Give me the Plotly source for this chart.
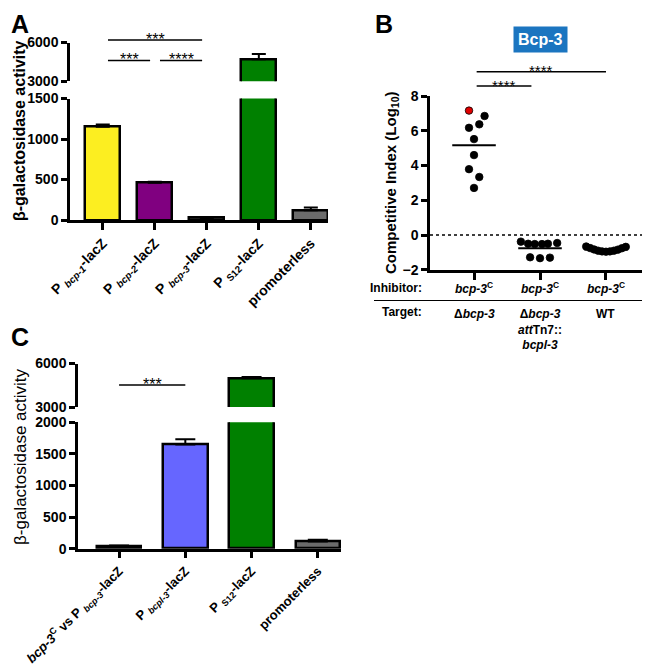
import plotly.graph_objects as go
import numpy as np

# the page body has an 8px margin, so the figure is drawn 8px smaller and shifted
OFF = 8
W, H = 650 - OFF, 668 - OFF
FONT = "Liberation Sans, Arial, sans-serif"

# ---------------- DATA ----------------
# Panel A
a_labels = ["P <sub><i>bcp-1</i></sub>-lacZ", "P <sub><i>bcp-2</i></sub>-lacZ",
            "P <sub><i>bcp-3</i></sub>-lacZ", "P <sub>S12</sub>-lacZ", "promoterless"]
a_values = [1150, 460, 25, 4700, 120]
a_errors = [30, 12, 12, 420, 35]
a_colors = ["#FCEE21", "#800080", "#333333", "#008000", "#6b6b6b"]
a_lower_ticks = [0, 500, 1000, 1500]
a_upper_ticks = [3000, 6000]

# Panel B
b_g1 = [7.16, 6.85, 6.37, 6.17, 5.52, 4.60, 3.79, 3.34, 2.71]
b_g2 = [-0.38, -0.50, -0.52, -0.52, -0.50, -0.46, -1.28, -1.33, -1.30]
b_g3 = [-0.66, -0.75, -0.83, -0.90, -0.94, -0.96, -0.94, -0.90, -0.84, -0.76, -0.68]
b_inhibitor = ["<i>bcp-3</i><sup>C</sup>", "<i>bcp-3</i><sup>C</sup>", "<i>bcp-3</i><sup>C</sup>"]
b_target = ["Δ<i>bcp-3</i>", "Δ<i>bcp-3</i><br><i>att</i>Tn7::<br><i>bcpl-3</i>", "WT"]
b_ticks = [-2, 0, 2, 4, 6, 8]

# Panel C
c_labels = ["<i>bcp-3</i><sup>C</sup> vs P <sub><i>bcp-3</i></sub>-lacZ", "P <sub><i>bcpl-3</i></sub>-lacZ",
            "P <sub>S12</sub>-lacZ", "promoterless"]
c_values = [32, 1650, 4980, 115]
c_errors = [18, 80, 90, 25]
c_colors = ["#222222", "#6666FF", "#008000", "#6b6b6b"]
c_lower_ticks = [0, 500, 1000, 1500, 2000]
c_upper_ticks = [3000, 6000]

# ---------------- LAYOUT CONSTANTS ----------------
def px(x):
    return min(1.0, max(0.0, (x - OFF) / W))

def py(y):
    return 1 - (y - OFF) / H

# jitter offsets (category units) for the scatter in panel B
b_jitter = [
    [-0.076, 0.16, 0.08, -0.076, 0.0, 0.0, -0.076, 0.08, 0.0],
    [-0.29, -0.18, -0.08, 0.03, 0.12, 0.26, -0.15, 0.0, 0.15],
    [-0.30, -0.24, -0.18, -0.12, -0.06, 0.0, 0.06, 0.12, 0.18, 0.24, 0.30],
]

A_XDOM = [px(70), px(328)]
A_XRNG = [-0.63, 4.33]
A_YDOM_LO = [py(220), py(98.5)]
A_YDOM_HI = [py(81.3), py(42.5)]
B_XDOM = [px(430), 1.0]
B_XRNG = [-0.667, 2.667]
B_YDOM = [py(269.8), py(96)]
B_YRNG = [-2, 8]
C_XDOM = [px(78), px(341)]
C_XRNG = [-0.62, 3.35]
C_YDOM_LO = [py(548.7), py(422.3)]
C_YDOM_HI = [py(407), py(363.5)]

def to_paper(dom, rng, v):
    return dom[0] + (v - rng[0]) / (rng[1] - rng[0]) * (dom[1] - dom[0])

fig = go.Figure()

def add_bars(xs, vals, errs, colors, xa, ya, width, capw):
    fig.add_trace(go.Bar(
        x=xs, y=vals, width=width, xaxis=xa, yaxis=ya,
        marker=dict(color=colors, line=dict(color="black", width=2.5)),
        error_y=dict(type="data", array=errs, arrayminus=[0] * len(errs), symmetric=False,
                     color="black", thickness=2, width=capw),
        showlegend=False, hoverinfo="skip"))

a_x = list(range(len(a_values)))
add_bars(a_x, a_values, a_errors, a_colors, "x", "y", 0.67, 7)
add_bars(a_x, a_values, a_errors, a_colors, "x2", "y2", 0.67, 7)

c_x = list(range(len(c_values)))
add_bars(c_x, c_values, c_errors, c_colors, "x4", "y4", 0.67, 10)
add_bars(c_x, c_values, c_errors, c_colors, "x5", "y5", 0.67, 10)

# Panel B scatter
b_groups = [b_g1, b_g2, b_g3]
for gi, (vals, jit) in enumerate(zip(b_groups, b_jitter)):
    xs = [gi + j for j in jit]
    colors = ["#E00000" if (gi == 0 and k == 0) else "black" for k in range(len(vals))]
    fig.add_trace(go.Scatter(
        x=xs, y=vals, mode="markers", xaxis="x3", yaxis="y3",
        marker=dict(size=7.5, color=colors, line=dict(color="black", width=0.8)),
        showlegend=False, hoverinfo="skip"))
    m = float(np.mean(vals))
    fig.add_trace(go.Scatter(
        x=[gi - 0.33, gi + 0.33], y=[m, m], mode="lines", xaxis="x3", yaxis="y3",
        line=dict(color="black", width=2), showlegend=False, hoverinfo="skip"))

def axis_common(size=14):
    return dict(showline=True, linewidth=2.5, linecolor="black", ticks="outside",
                tickwidth=2.5, tickcolor="black", showgrid=False, zeroline=False,
                automargin=False,
                tickfont=dict(family=FONT, size=size, color="black", weight="bold"))

fig.update_layout(
    width=W, height=H, margin=dict(l=0, r=0, t=0, b=0, autoexpand=False),
    paper_bgcolor="white", plot_bgcolor="white", bargap=0,
    font=dict(family=FONT, color="black"),
    xaxis=dict(domain=A_XDOM, range=A_XRNG, anchor="y", tickvals=a_x, ticktext=a_labels,
               tickangle=-45, ticklen=7, **axis_common()),
    yaxis=dict(domain=A_YDOM_LO, range=[0, 1500], anchor="x", tickvals=a_lower_ticks,
               ticklen=6, **axis_common()),
    xaxis2=dict(domain=A_XDOM, range=A_XRNG, anchor="y2", visible=False, automargin=False),
    yaxis2=dict(domain=A_YDOM_HI, range=[3000, 6000], anchor="x2", tickvals=a_upper_ticks,
                ticklen=6, **axis_common()),
    xaxis3=dict(domain=B_XDOM, range=B_XRNG, anchor="y3", tickvals=[0, 1, 2],
                ticktext=["", "", ""], ticklen=7, **axis_common()),
    yaxis3=dict(domain=B_YDOM, range=B_YRNG, anchor="x3", tickvals=b_ticks,
                ticklen=6, **axis_common()),
    xaxis4=dict(domain=C_XDOM, range=C_XRNG, anchor="y4", tickvals=c_x, ticktext=c_labels,
                tickangle=-45, ticklen=7, **axis_common(13)),
    yaxis4=dict(domain=C_YDOM_LO, range=[0, 2000], anchor="x4", tickvals=c_lower_ticks,
                ticklen=6, **axis_common()),
    xaxis5=dict(domain=C_XDOM, range=C_XRNG, anchor="y5", visible=False, automargin=False),
    yaxis5=dict(domain=C_YDOM_HI, range=[3000, 6000], anchor="x5", tickvals=c_upper_ticks,
                ticklen=6, **axis_common()),
)

shapes = []
annotations = []

def sig(dom, rng, x0, x1, ypx, stars, size=16):
    xa = to_paper(dom, rng, x0)
    xb = to_paper(dom, rng, x1)
    shapes.append(dict(type="line", xref="paper", yref="paper", x0=xa, x1=xb,
                       y0=py(ypx), y1=py(ypx), line=dict(color="black", width=1.5)))
    annotations.append(dict(xref="paper", yref="paper", x=(xa + xb) / 2, y=py(ypx - 1),
                            text=stars, showarrow=False, xanchor="center", yanchor="middle",
                            font=dict(family=FONT, size=size, color="black")))

# Panel A significance
sig(A_XDOM, A_XRNG, 0.1, 1.91, 40, "***")
sig(A_XDOM, A_XRNG, 0.1, 0.91, 60.5, "***")
sig(A_XDOM, A_XRNG, 1.1, 1.91, 60.5, "****")
# Panel B significance
sig(B_XDOM, B_XRNG, 0.04, 0.87, 86, "****", 15)
sig(B_XDOM, B_XRNG, 0.04, 2.0, 71.7, "****", 15)
# Panel C significance
sig(C_XDOM, C_XRNG, 0.0, 1.0, 385, "***")

# dotted zero line in panel B
shapes.append(dict(type="line", xref="x3 domain", yref="y3", x0=0, x1=1, y0=0, y1=0,
                   line=dict(color="black", width=1.5, dash="dot")))
# table separator line in panel B
shapes.append(dict(type="line", xref="paper", yref="paper", x0=px(374), x1=1.0,
                   y0=py(300.5), y1=py(300.5), line=dict(color="black", width=1)))

def txt(x, y, text, size, xref="paper", xanchor="center", yanchor="middle", weight="bold", **kw):
    annotations.append(dict(xref=xref, yref="paper", x=x, y=y, text=text, showarrow=False,
                            xanchor=xanchor, yanchor=yanchor,
                            font=dict(family=FONT, size=size, color="black", weight=weight), **kw))

# panel letters
txt(px(9), py(8), "A", 25, xanchor="left", yanchor="top")
txt(px(384), py(8), "B", 25, yanchor="top")
txt(px(9), py(337), "C", 25, xanchor="left")

# axis titles
txt(px(19), py(131), "β-galactosidase activity", 16, textangle=-90)
txt(px(391), py(183), "Competitive Index (Log<sub>10</sub>)", 15, textangle=-90)
txt(px(20), py(457), "β-galactosidase activity", 17, textangle=-90, weight="normal")

# Bcp-3 box
annotations.append(dict(xref="paper", yref="paper", x=px(540), y=py(39), text="Bcp-3",
                        xanchor="center", yanchor="middle",
                        showarrow=False, bgcolor="#1B75C0", borderpad=4,
                        font=dict(family=FONT, size=16, color="white", weight="bold")))

# panel B table
txt(px(424), py(288), "Inhibitor:", 12, xanchor="right")
txt(px(424), py(312), "Target:", 12, xanchor="right")
for i, (inh, tgt) in enumerate(zip(b_inhibitor, b_target)):
    txt(i, py(288), inh, 12, xref="x3")
    txt(i, py(304.5), tgt, 12, xref="x3", yanchor="top")

fig.update_layout(shapes=shapes, annotations=annotations)
fig.write_html("out.html")
